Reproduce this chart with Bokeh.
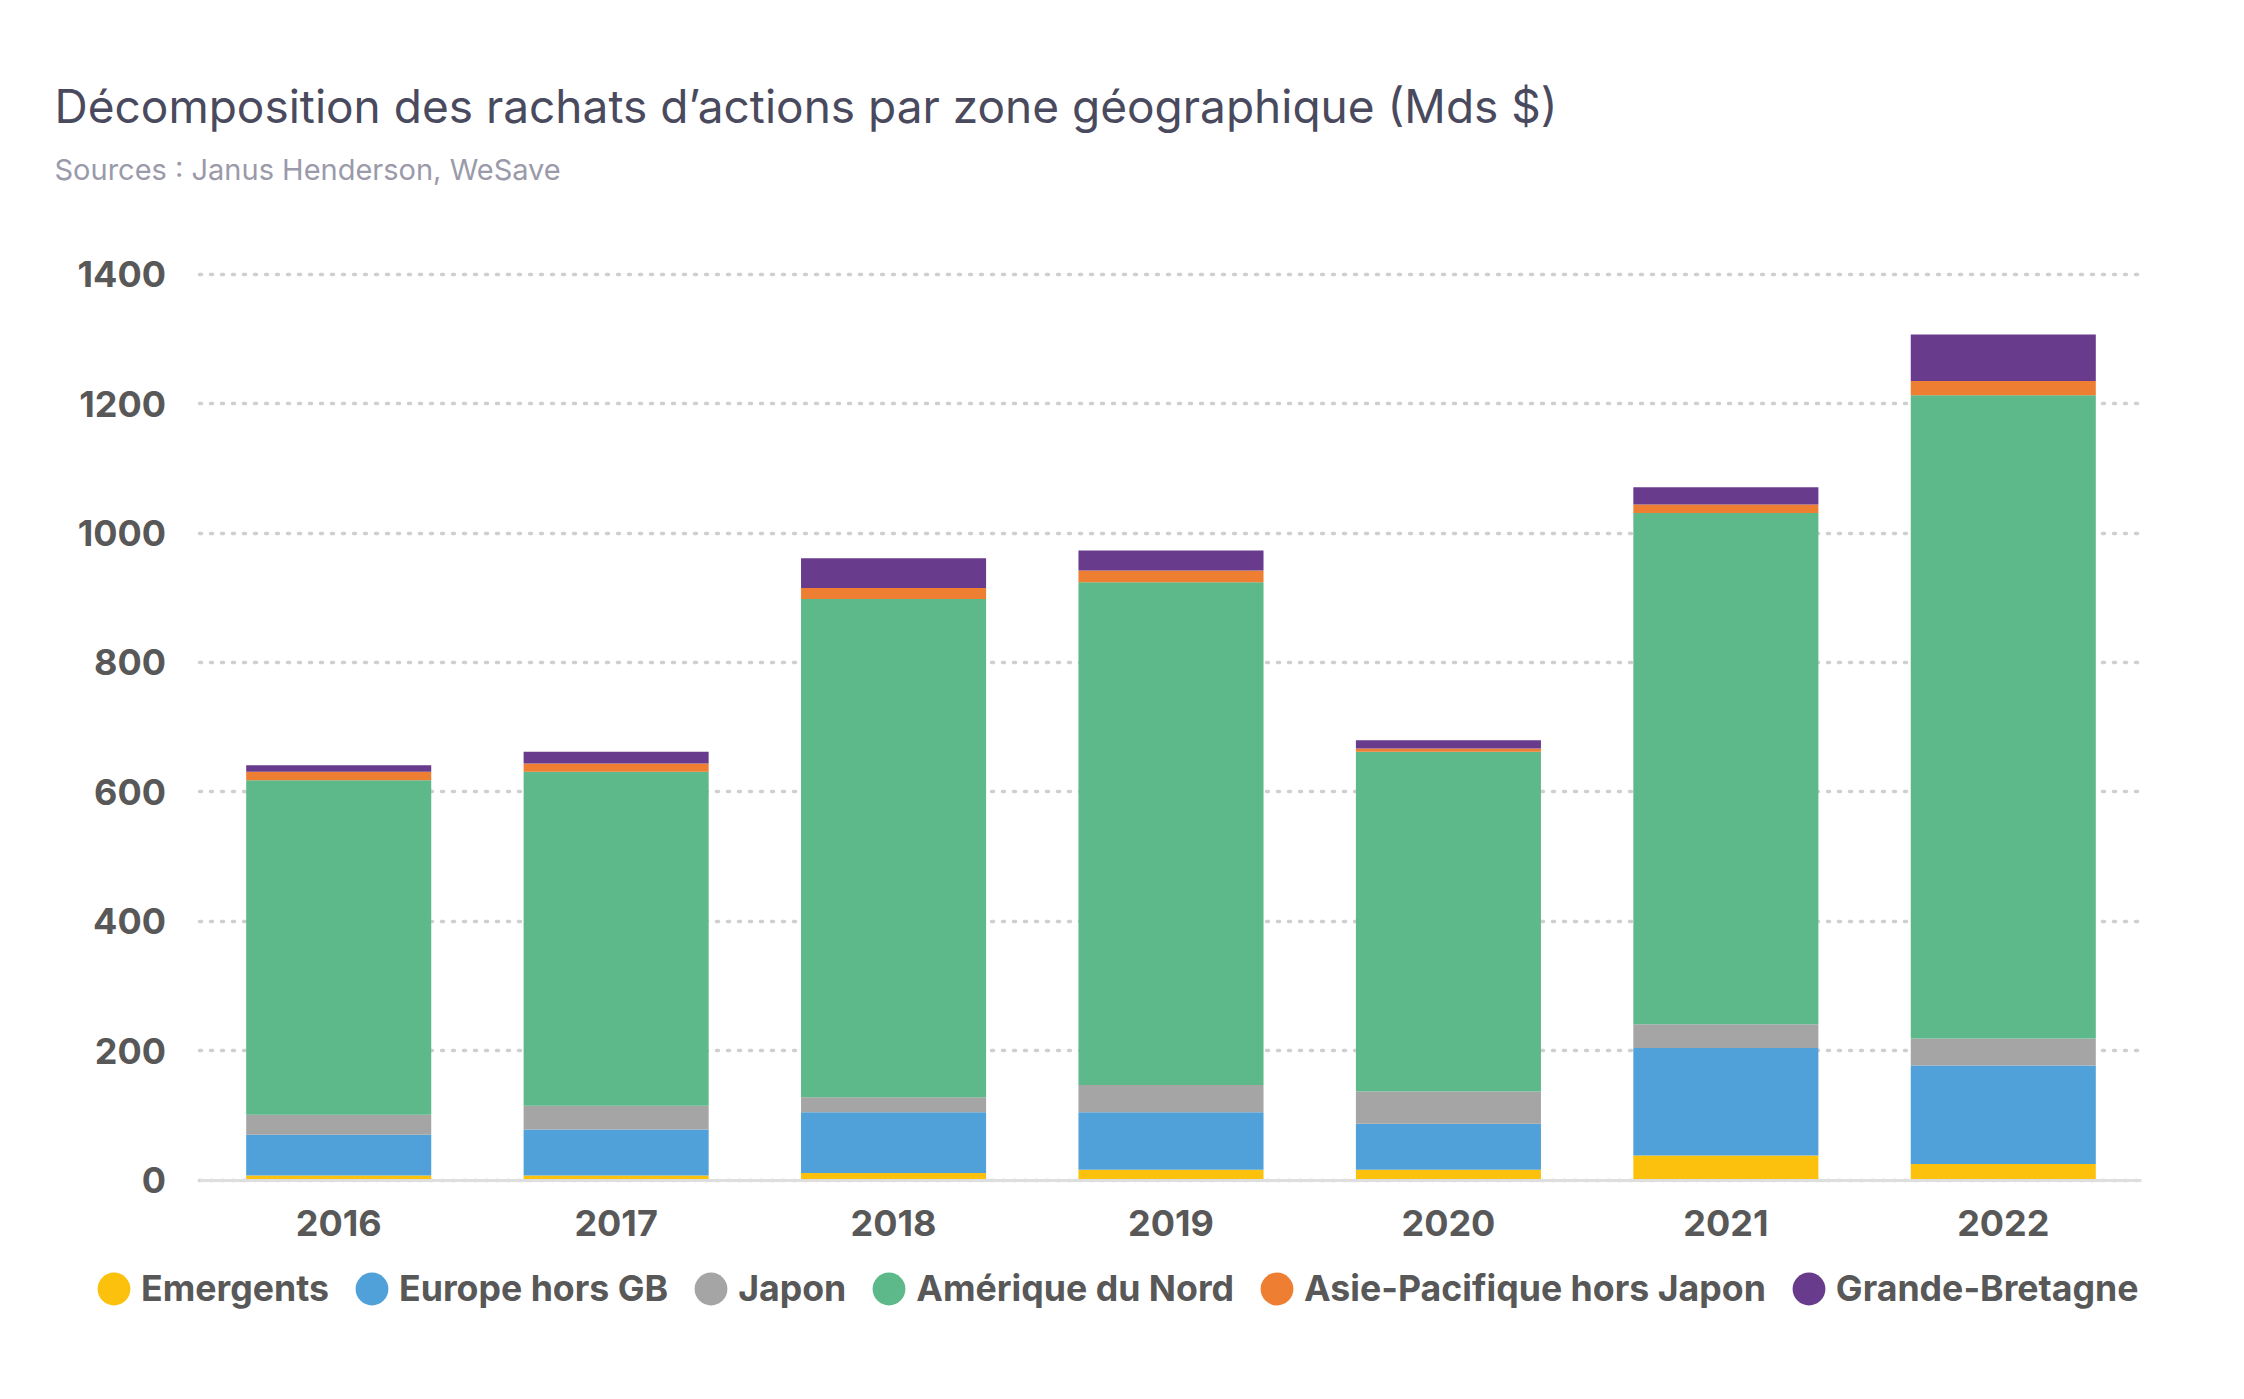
from bokeh.plotting import figure
from bokeh.models import ColumnDataSource, Range1d, FixedTicker, Title, Legend, LegendItem
from bokeh.embed import file_html
from bokeh.resources import INLINE

years = ["2016", "2017", "2018", "2019", "2020", "2021", "2022"]
emergents = [7, 7, 11, 16, 16, 38, 25]
europe_hors_gb = [63, 71, 94, 89, 71, 166, 152]
japon = [31, 37, 23, 42, 50, 37, 42]
amerique_du_nord = [517, 516, 770, 777, 525, 790, 994]
asie_pacifique = [13, 13, 17, 18, 5, 13, 22]
grande_bretagne = [10, 18, 46, 31, 13, 27, 72]

series_keys = ["emergents", "europe", "japon", "amerique", "asie", "gb"]
series_labels = ["Emergents", "Europe hors GB", "Japon", "Amérique du Nord",
                 "Asie-Pacifique hors Japon", "Grande-Bretagne"]
colors = ["#FCC10D", "#50A0D9", "#A5A5A5", "#5DB88A", "#EE7E31", "#683B8C"]
y_ticks = [0, 200, 400, 600, 800, 1000, 1200, 1400]

# category slot centres (one unit per year)
xpos = [i + 0.5 for i in range(len(years))]

source = ColumnDataSource(data=dict(
    x=xpos, years=years, emergents=emergents, europe=europe_hors_gb, japon=japon,
    amerique=amerique_du_nord, asie=asie_pacifique, gb=grande_bretagne))

FONT = "Inter"
TICK_COLOR = "#585858"

p = figure(width=2228, height=1383, output_backend="svg", toolbar_location=None,
           x_range=Range1d(-0.5028, len(years) + 0.3118),
           y_range=Range1d(-314.4, 1532.6),
           min_border_left=60, min_border_right=0, min_border_top=188, min_border_bottom=0)

p.vbar_stack(series_keys, x="x", width=0.667, color=colors, line_color=None, source=source)

# axes drawn at fixed positions inside the frame
p.xaxis.fixed_location = 0
p.xaxis.bounds = (0, len(years))
p.xaxis.ticker = FixedTicker(ticks=xpos)
p.xaxis.major_label_overrides = {x: y for x, y in zip(xpos, years)}
p.xaxis.axis_line_color = "#DEDEDE"
p.xaxis.axis_line_width = 3
p.xaxis.major_tick_line_color = None
p.xaxis.minor_tick_line_color = None
p.xaxis.major_tick_out = 0
p.xaxis.major_tick_in = 0
p.xaxis.major_label_text_font = FONT
p.xaxis.major_label_text_font_style = "bold"
p.xaxis.major_label_text_font_size = "36px"
p.xaxis.major_label_text_color = TICK_COLOR
p.xaxis.major_label_standoff = 30

p.yaxis.fixed_location = 0
p.yaxis.ticker = FixedTicker(ticks=y_ticks)
p.yaxis.axis_line_color = None
p.yaxis.major_tick_line_color = None
p.yaxis.minor_tick_line_color = None
p.yaxis.major_tick_out = 0
p.yaxis.major_tick_in = 0
p.yaxis.major_label_text_font = FONT
p.yaxis.major_label_text_font_style = "bold"
p.yaxis.major_label_text_font_size = "36px"
p.yaxis.major_label_text_color = TICK_COLOR
p.yaxis.major_label_standoff = 34

p.xgrid.grid_line_color = None
p.ygrid.ticker = FixedTicker(ticks=y_ticks)
p.ygrid.grid_line_color = "#CFCFCF"
p.ygrid.grid_line_width = 3.5
p.ygrid.grid_line_dash = "2 9"
p.ygrid.grid_line_cap = "round"
try:
    p.ygrid.cross_bounds = (0, len(years))
except Exception:
    pass

p.outline_line_color = None
p.background_fill_color = "white"
p.border_fill_color = "white"

# titles
sub = Title(text="Sources : Janus Henderson, WeSave", text_font=FONT, text_font_style="normal",
            text_font_size="29px", text_color="#9A9AAA", align="left", offset=-6, standoff=4)
p.add_layout(sub, "above")
ttl = Title(text="Décomposition des rachats d’actions par zone géographique (Mds $)", text_font=FONT,
            text_font_style="normal", text_font_size="46px", text_color="#4A4A5E", align="left",
            offset=-6, standoff=28)
p.add_layout(ttl, "above")

# legend with round markers (one NaN point so nothing is drawn in the plot)
items = []
for lab, col in zip(series_labels, colors):
    r = p.ellipse(x=[xpos[0]], y=[float("nan")], width=10, height=10,
                  width_units="screen", height_units="screen",
                  fill_color=col, line_color=None)
    items.append(LegendItem(label=lab, renderers=[r]))

legend = Legend(items=items, orientation="horizontal", location=(33, 73),
                glyph_width=41, glyph_height=41, label_standoff=7, spacing=22,
                padding=0, margin=0, border_line_color=None, background_fill_alpha=0,
                label_text_font=FONT, label_text_font_style="bold", label_text_font_size="35.7px",
                label_text_color=TICK_COLOR)
p.add_layout(legend, "center")

open("out.html", "w").write(file_html(p, INLINE))
